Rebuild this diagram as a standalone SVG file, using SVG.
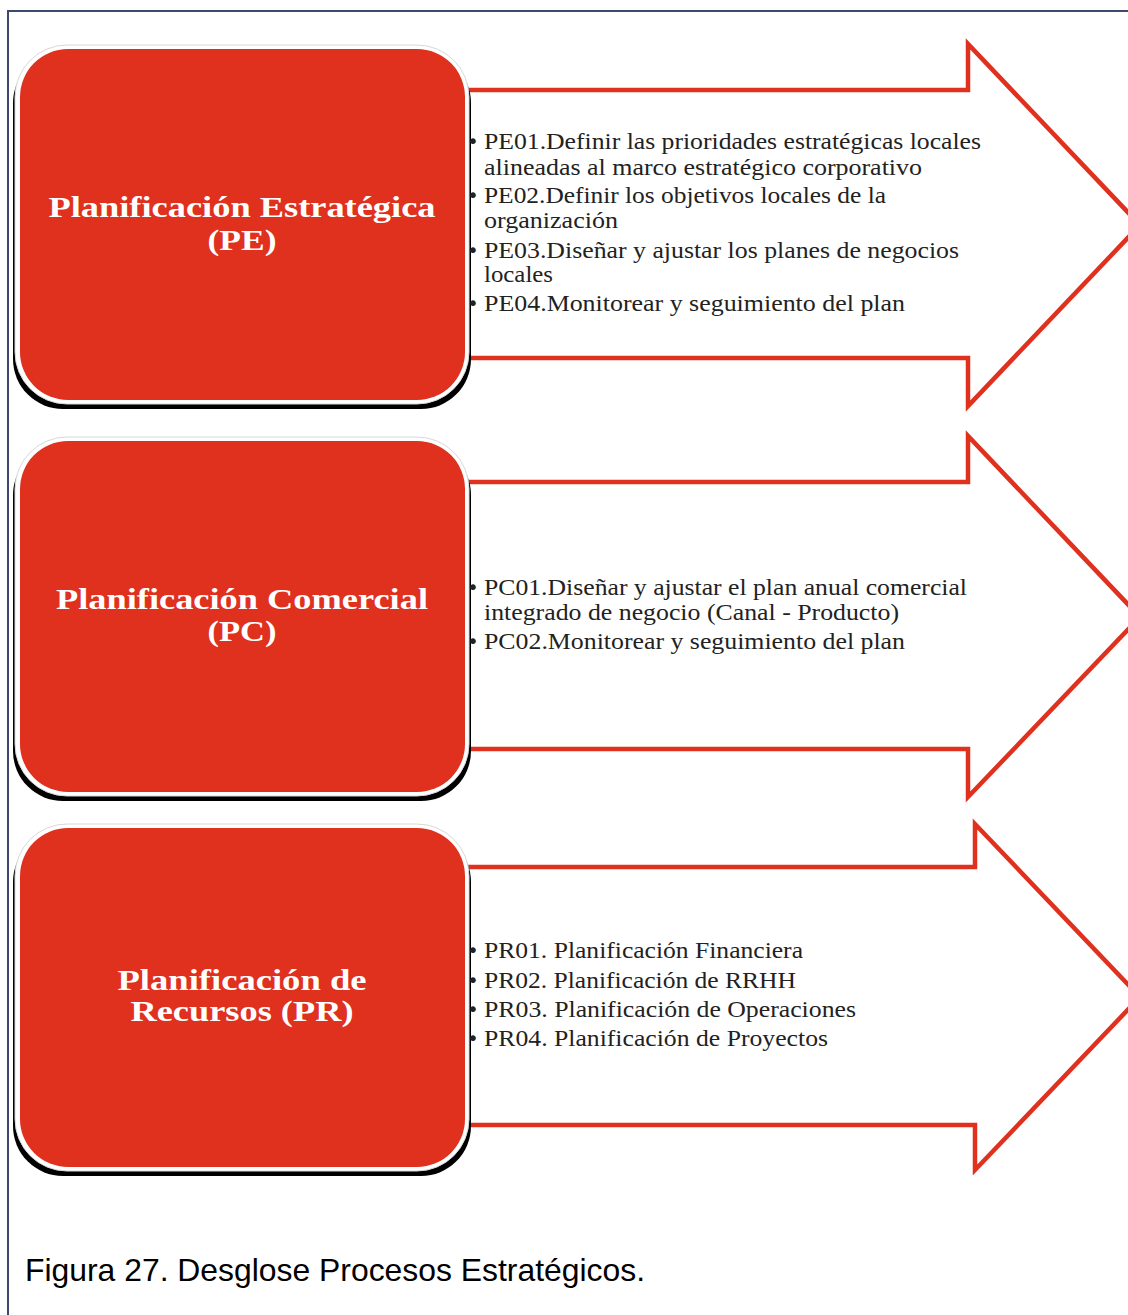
<svg xmlns="http://www.w3.org/2000/svg" width="1128" height="1315" viewBox="0 0 1128 1315">
<style>
.frame{fill:none;stroke:#3b4a6b;stroke-width:2}
.arrow{fill:#fff;stroke:#e0301e;stroke-width:4.5;stroke-linejoin:miter}
.shadow{fill:#000}
.rim{fill:#fff;stroke:#d8d8d8;stroke-width:1}
.box{fill:#e0301e}
.title{font-family:"Liberation Serif","DejaVu Serif",serif;font-weight:bold;font-size:30px;fill:#fff;text-anchor:middle}
.item{font-family:"Liberation Serif","DejaVu Serif",serif;font-size:24px;fill:#222}
.bul{font-family:"DejaVu Sans",sans-serif;font-size:20px;fill:#222}
.cap{font-family:"Liberation Sans",Arial,sans-serif;font-size:32px;fill:#000}
</style>
<rect width="1128" height="1315" fill="#fff"/>
<path class="frame" d="M8,1315 V11 H1128"/>
<g id="connectors">
<path id="arrow-pe" class="arrow" d="M465,90 H968 V44 L1140,225 L968,406 V358 H465"/>
<path id="arrow-pc" class="arrow" d="M465,482 H968 V436 L1140,617 L968,797 V749 H465"/>
<path id="arrow-pr" class="arrow" d="M465,867 H975 V824 L1140,997 L975,1170 V1125 H465"/>
</g>
<g id="node-pe">
<rect class="shadow" x="13" y="53" width="458" height="356" rx="50"/>
<rect class="rim" x="15" y="45" width="454" height="359" rx="52"/>
<rect class="box" x="20" y="49" width="445" height="351" rx="48"/>
<text class="title" x="242" y="217" textLength="387" lengthAdjust="spacingAndGlyphs">Planificación Estratégica</text>
<text class="title" x="242" y="250" textLength="69" lengthAdjust="spacingAndGlyphs">(PE)</text>
</g>
<g id="node-pc">
<rect class="shadow" x="13" y="445" width="458" height="356" rx="50"/>
<rect class="rim" x="15" y="437" width="454" height="359" rx="52"/>
<rect class="box" x="20" y="441" width="445" height="351" rx="48"/>
<text class="title" x="242" y="609" textLength="372" lengthAdjust="spacingAndGlyphs">Planificación Comercial</text>
<text class="title" x="242" y="641" textLength="69" lengthAdjust="spacingAndGlyphs">(PC)</text>
</g>
<g id="node-pr">
<rect class="shadow" x="13" y="832" width="458" height="344" rx="50"/>
<rect class="rim" x="15" y="824" width="454" height="347" rx="52"/>
<rect class="box" x="20" y="828" width="445" height="339" rx="48"/>
<text class="title" x="242" y="990" textLength="249" lengthAdjust="spacingAndGlyphs">Planificación de</text>
<text class="title" x="242" y="1021" textLength="223" lengthAdjust="spacingAndGlyphs">Recursos (PR)</text>
</g>
<g id="list-pe" class="item">
<text class="bul" x="467" y="148">•</text><text x="484" y="149" textLength="497" lengthAdjust="spacingAndGlyphs">PE01.Definir las prioridades estratégicas locales</text>
<text x="484" y="175" textLength="438" lengthAdjust="spacingAndGlyphs">alineadas al marco estratégico corporativo</text>
<text class="bul" x="467" y="202">•</text><text x="484" y="203" textLength="402" lengthAdjust="spacingAndGlyphs">PE02.Definir los objetivos locales de la</text>
<text x="484" y="228" textLength="134" lengthAdjust="spacingAndGlyphs">organización</text>
<text class="bul" x="467" y="257">•</text><text x="484" y="258" textLength="475" lengthAdjust="spacingAndGlyphs">PE03.Diseñar y ajustar los planes de negocios</text>
<text x="484" y="282" textLength="69" lengthAdjust="spacingAndGlyphs">locales</text>
<text class="bul" x="467" y="310">•</text><text x="484" y="311" textLength="421" lengthAdjust="spacingAndGlyphs">PE04.Monitorear y seguimiento del plan</text>
</g>
<g id="list-pc" class="item">
<text class="bul" x="467" y="594">•</text><text x="484" y="595" textLength="483" lengthAdjust="spacingAndGlyphs">PC01.Diseñar y ajustar el plan anual comercial</text>
<text x="484" y="620" textLength="415" lengthAdjust="spacingAndGlyphs">integrado de negocio (Canal - Producto)</text>
<text class="bul" x="467" y="648">•</text><text x="484" y="649" textLength="421" lengthAdjust="spacingAndGlyphs">PC02.Monitorear y seguimiento del plan</text>
</g>
<g id="list-pr" class="item">
<text class="bul" x="467" y="957">•</text><text x="484" y="958" textLength="319" lengthAdjust="spacingAndGlyphs">PR01. Planificación Financiera</text>
<text class="bul" x="467" y="987">•</text><text x="484" y="988" textLength="312" lengthAdjust="spacingAndGlyphs">PR02. Planificación de RRHH</text>
<text class="bul" x="467" y="1016">•</text><text x="484" y="1017" textLength="372" lengthAdjust="spacingAndGlyphs">PR03. Planificación de Operaciones</text>
<text class="bul" x="467" y="1045">•</text><text x="484" y="1046" textLength="344" lengthAdjust="spacingAndGlyphs">PR04. Planificación de Proyectos</text>
</g>
<text class="cap" x="25" y="1281" textLength="620" lengthAdjust="spacingAndGlyphs">Figura 27. Desglose Procesos Estratégicos.</text>
</svg>
